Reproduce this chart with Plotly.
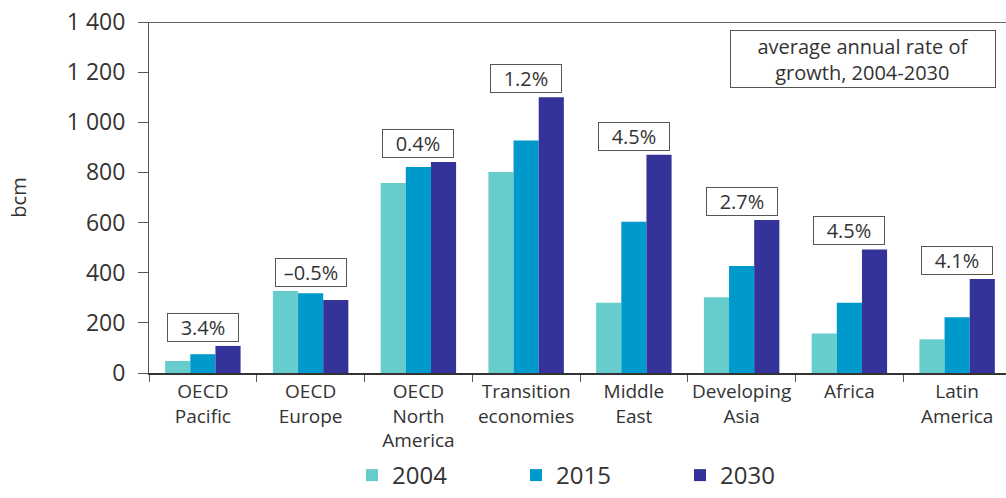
import plotly.graph_objects as go

# Regions (category axis), with line breaks for the tick labels
regions = [
    "OECD<br>Pacific",
    "OECD<br>Europe",
    "OECD<br>North<br>America",
    "Transition<br>economies",
    "Middle<br>East",
    "Developing<br>Asia",
    "Africa",
    "Latin<br>America",
]

# Gas demand in bcm
demand_2004 = [48, 327, 758, 802, 280, 302, 158, 134]
demand_2015 = [75, 318, 822, 927, 603, 427, 280, 222]
demand_2030 = [108, 291, 842, 1100, 871, 610, 493, 375]

# Average annual rate of growth 2004-2030
growth_labels = ["3.4%", "\u20130.5%", "0.4%", "1.2%", "4.5%", "2.7%", "4.5%", "4.1%"]

y_tickvals = [0, 200, 400, 600, 800, 1000, 1200, 1400]
y_ticktext = ["0", "200", "400", "600", "800", "1 000", "1 200", "1 400"]

FONT = "Open Sans"
TXT = "#333333"

# plot-area geometry (pixels)
L, T, B = 149, 22, 125
W, H = 1006, 498
PW, PH = W - L, H - T - B

fig = go.Figure()
series = [
    ("2004", demand_2004, "#66CCCC"),
    ("2015", demand_2015, "#0099CC"),
    ("2030", demand_2030, "#333399"),
]
for name, vals, color in series:
    fig.add_trace(go.Bar(
        x=regions, y=vals, name=name,
        marker=dict(color=color, line=dict(width=0)),
    ))

# Growth-rate boxes above each group
for reg, lab, a, b, c in zip(regions, growth_labels, demand_2004, demand_2015, demand_2030):
    fig.add_annotation(
        x=reg, y=max(a, b, c), xref="x", yref="y",
        text=lab, showarrow=False, yanchor="bottom", yshift=4,
        font=dict(family=FONT, size=20, color=TXT),
        bordercolor="#555555", borderwidth=1, borderpad=1,
        width=68, height=25, bgcolor="white",
    )

# Explanatory note box
fig.add_annotation(
    x=(863 - L) / PW, y=(H - B - 59) / PH, xref="paper", yref="paper",
    text="average annual rate of<br>growth, 2004-2030",
    showarrow=False, xanchor="center", yanchor="middle",
    font=dict(family=FONT, size=20, color=TXT),
    bordercolor="#555555", borderwidth=1, borderpad=1,
    width=262, height=54, align="center",
)

fig.update_layout(
    width=W, height=H,
    margin=dict(l=L, r=0, t=T, b=B),
    paper_bgcolor="white", plot_bgcolor="white",
    barmode="group", bargap=0.3, bargroupgap=0,
    font=dict(family=FONT, color=TXT),
    legend=dict(
        orientation="h", xref="container", yref="container",
        x=352 / W, xanchor="left", y=-0.012, yanchor="bottom",
        font=dict(family=FONT, size=24, color=TXT),
        entrywidth=119, entrywidthmode="pixels",
        itemwidth=30, traceorder="normal",
    ),
    xaxis=dict(
        range=[-0.5, -0.5 + PW / 107.75],
        automargin=False,
        showline=True, linecolor="#333333", linewidth=2,
        ticks="outside", tickson="boundaries", ticklen=7,
        tickcolor="#555555", tickwidth=1, tickangle=0,
        tickfont=dict(family=FONT, size=19, color=TXT),
        showgrid=False, zeroline=False,
    ),
    yaxis=dict(
        range=[0, 1400],
        automargin=False,
        tickvals=y_tickvals, ticktext=y_ticktext,
        showline=True, linecolor="#555555", linewidth=1, mirror=False,
        ticks="outside", ticklen=10, tickcolor="#555555", tickwidth=1,
        ticklabelstandoff=8,
        tickfont=dict(family=FONT, size=23, color=TXT),
        showgrid=False, zeroline=False,
        title=dict(text="bcm", font=dict(family=FONT, size=20, color=TXT), standoff=34),
    ),
)

# Top border of the plot area
fig.add_shape(type="line", xref="paper", yref="y", x0=0, x1=1, y0=1400, y1=1400,
              line=dict(color="#333333", width=1.5))

fig.write_html("out.html")
